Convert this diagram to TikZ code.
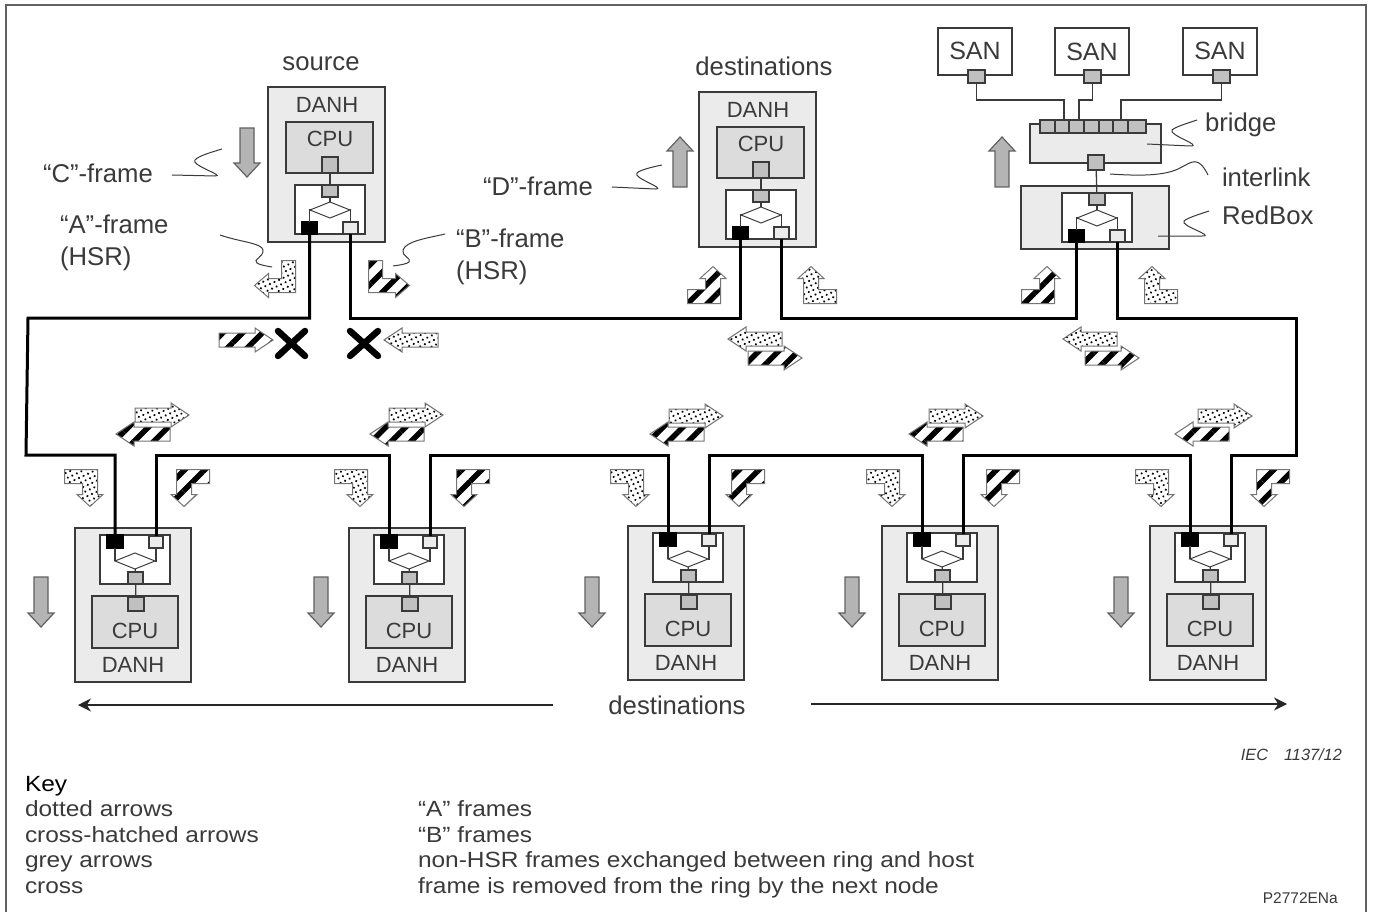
\documentclass[tikz,border=0pt]{standalone}
\usepackage{fontspec}
\setmainfont{Liberation Sans}
\newfontfamily\widefont[FakeStretch=1.112]{Liberation Sans}
\usetikzlibrary{shapes.geometric,patterns.meta,arrows.meta,calc}
\definecolor{ink}{HTML}{3A3A3A}
\definecolor{outerfill}{HTML}{EBEBEB}
\definecolor{cpufill}{HTML}{DCDCDC}
\definecolor{portfill}{HTML}{C0C0C0}
\definecolor{greyarrow}{HTML}{B4B4B4}
\tikzset{
  x=1pt,y=-1pt,
  rbox/.style={draw=ink,line width=1.3pt,rectangle,inner sep=0pt,outer sep=0pt},
  outerbox/.style={rbox,fill=outerfill},
  cpubox/.style={rbox,fill=cpufill},
  unitbox/.style={rbox,fill=white},
  port/.style={rbox,fill=portfill},
  blackport/.style={rbox,fill=black,draw=black},
  whiteport/.style={rbox,fill=outerfill},
  switch/.style={diamond,draw=ink,line width=1pt,fill=white,inner sep=0pt,outer sep=0pt,minimum width=40pt,minimum height=16pt,shape aspect=2.5},
  wire/.style={draw=ink,line width=1.3pt},
  ring/.style={draw=black,line width=3pt,line cap=butt,line join=miter},
  txt/.style={text=ink,inner sep=0pt,outer sep=0pt,font=\fontsize{25.7}{32}\selectfont},
  santxt/.style={text=ink,inner sep=0pt,outer sep=0pt,font=\fontsize{25}{32}\selectfont},
  boxtxt/.style={text=ink,inner sep=0pt,outer sep=0pt,font=\fontsize{22}{26}\selectfont},
  keytxt/.style={text=ink,inner sep=0pt,outer sep=0pt,anchor=base west,font=\widefont\fontsize{22}{26}\selectfont},
  hatchfill/.style={draw=ink!70,line width=1pt,preaction={fill=white},pattern={Lines[angle=45,distance=14pt,line width=5.5pt]},pattern color=black},
  dotfill/.style={draw=ink!70,line width=1pt,preaction={fill=white},pattern={Dots[radius=1.2pt,distance=5pt,angle=25]},pattern color=black},
  greyfill/.style={draw=ink!80,line width=1.2pt,fill=greyarrow},
  squiggle/.style={draw=ink,line width=1pt},
  crossmark/.style={draw=black,line width=6.5pt,line cap=round},
  long/.style={draw=black!85,line width=1.5pt,-{Stealth[length=13pt,width=13pt]}},
}
% box by corners
\newcommand{\bx}[7][]{\node[#2,#1,minimum width={(#6-#4)*1pt},minimum height={(#7-#5)*1pt}] (#3) at ({(#4+#6)/2},{(#5+#7)/2}) {};}
% ring section between two ports, through the level y
\newcommand{\ringlink}[3]{\draw[ring] (#1) -- (#1 |- 0,#3) -- (#2 |- 0,#3) -- (#2);}
% redundancy unit, ports at the bottom
\newcommand{\unittop}[1]{%
  \bx{unitbox}{#1box}{27}{98}{97}{147}
  \bx{port}{#1up}{54}{98}{70}{110}
  \node[switch] (#1sw) at (62,123) {};
  \bx{blackport}{#1b}{34}{135}{49}{147}
  \bx{whiteport}{#1w}{75}{135}{90}{147}
  \draw[wire] (#1up) -- (#1sw);
  \draw[wire] (#1sw.west) -| (#1b.north);
  \draw[wire] (#1sw.east) -| (#1w.north);
}
\newcommand{\danhtop}[3]{\begin{scope}[shift={(#2,#3)}]
  \bx{outerbox}{#1o}{0}{0}{117}{155}
  \node[boxtxt] (#1t) at (59,18) {DANH};
  \bx{cpubox}{#1c}{18}{35}{105}{86}
  \node[boxtxt] (#1ct) at (62,52) {CPU};
  \bx{port}{#1cp}{54}{70}{70}{86}
  \unittop{#1}
  \draw[wire] (#1up) -- (#1cp);
\end{scope}}
\newcommand{\danhbot}[3]{\begin{scope}[shift={(#2,#3)}]
  \bx{outerbox}{#1o}{0}{0}{116}{154}
  \bx{unitbox}{#1box}{25}{7}{95}{56}
  \bx{blackport}{#1b}{32}{7}{48}{20}
  \bx{whiteport}{#1w}{74}{8}{88}{20}
  \node[switch] (#1sw) at (60,33) {};
  \bx{port}{#1up}{53}{44}{68}{56}
  \bx{cpubox}{#1c}{17}{68}{103}{120}
  \bx{port}{#1cp}{53}{69}{69}{83}
  \node[boxtxt] (#1ct) at (60,103) {CPU};
  \node[boxtxt] (#1t) at (58,137) {DANH};
  \draw[wire] (#1up) -- (#1sw);
  \draw[wire] (#1sw.west) -| (#1b.south);
  \draw[wire] (#1sw.east) -| (#1w.south);
  \draw[wire] (#1up) -- (#1cp);
\end{scope}}
% straight pattern arrow: style, cx, cy, direction
\newcommand{\sarrow}[4]{\begin{scope}[shift={(#2,#3)},xscale=#4]
  \path[#1] (-27,-7) -- (9,-7) -- (9,-12) -- (27,0) -- (9,12) -- (9,7) -- (-27,7) -- cycle;
\end{scope}}
% L arrow with horizontal tip: style, cx, cy, xscale, yscale
\newcommand{\larrowh}[5]{\begin{scope}[shift={(#2,#3)},xscale=#4,yscale=#5]
  \path[#1] (20.5,-18.5) -- (6.5,-18.5) -- (6.5,-0.5) -- (-6.5,-0.5) -- (-6.5,-5.5) -- (-20.5,6.5) -- (-6.5,18.5) -- (-6.5,13.5) -- (20.5,13.5) -- cycle;
\end{scope}}
% L arrow with vertical tip
\newcommand{\larrowv}[5]{\begin{scope}[shift={(#2,#3)},xscale=#4,yscale=#5]
  \path[#1] (-20.5,18.5) -- (-20.5,4.5) -- (-2.5,4.5) -- (-2.5,-6.5) -- (-8,-6.5) -- (5,-18.5) -- (18,-6.5) -- (12.5,-6.5) -- (12.5,18.5) -- cycle;
\end{scope}}
\newcommand{\garrow}[3]{\path[greyfill] (#1-7,#2) -- (#1+7,#2) -- (#1+7,#3-14) -- (#1+13,#3-14) -- (#1,#3) -- (#1-13,#3-14) -- (#1-7,#3-14) -- cycle;}
\newcommand{\garrowup}[3]{\path[greyfill] (#1-7,#3) -- (#1+7,#3) -- (#1+7,#2+14) -- (#1+13,#2+14) -- (#1,#2) -- (#1-13,#2+14) -- (#1-7,#2+14) -- cycle;}
\begin{document}
\begin{tikzpicture}
\useasboundingbox (0,0) rectangle (1373,912);
\fill[white] (0,0) rectangle (1373,912);
% outer frame, open at the bottom
\draw[draw=ink!80,line width=2pt] (6,912) -- (6,5) -- (1366,5) -- (1366,912);

% DANH nodes
\danhtop{src}{268}{87}
\danhtop{dst}{699}{92}
\danhbot{na}{75}{528}
\danhbot{nb}{349}{528}
\danhbot{nc}{628}{526}
\danhbot{nd}{882}{526}
\danhbot{ne}{1150}{526}

% RedBox, bridge, SANs
\begin{scope}[shift={(1021,186)}]
  \bx{outerbox}{rbo}{0}{0}{148}{63}
\end{scope}
\begin{scope}[shift={(1035,95)}]
  \unittop{rb}
\end{scope}
\bx{outerbox}{brg}{1030}{124}{1161}{163}
\foreach \i/\a/\c in {1/1040/1055,2/1055/1069,3/1069/1084,4/1084/1099,5/1099/1113,6/1113/1128,7/1128/1146}{
  \bx{port}{brp\i}{\a}{120}{\c}{133}
}
\bx{port}{brdown}{1088}{155}{1104}{170}
\draw[wire] (brdown) -- (rbup);
\bx{unitbox}{sana}{938}{28}{1012}{75}
\bx{unitbox}{sanb}{1055}{28}{1129}{75}
\bx{unitbox}{sanc}{1183}{28}{1257}{75}
\node[santxt] (sanat) at (975,51) {SAN};
\node[santxt] (sanbt) at (1092,52) {SAN};
\node[santxt] (sanct) at (1220,51) {SAN};
\bx{port}{sanap}{968}{70}{985}{83}
\bx{port}{sanbp}{1084}{70}{1101}{83}
\bx{port}{sancp}{1213}{70}{1230}{83}
\draw[wire] (sanap.south) |- (1064,100) -- (1064,120);
\draw[wire] (sanbp.south) |- (1079,100) -- (1079,120);
\draw[wire] (sancp.south) |- (1121,100) -- (1121,120);

% ring
\draw[ring] (srcb.south) |- (28,318) -- (26,455) -| (nab.north);
\ringlink{naw.north}{nbb.north}{455}
\ringlink{nbw.north}{ncb.north}{455}
\ringlink{ncw.north}{ndb.north}{455}
\ringlink{ndw.north}{neb.north}{455}
\draw[ring] (new.north) |- (1296,455) -- (1296,318) -| (rbw.south);
\ringlink{rbb.south}{dstw.south}{318}
\ringlink{dstb.south}{srcw.south}{318}

% grey arrows
\garrow{247}{128}{177}
\garrowup{680}{137}{187}
\garrowup{1002}{137}{187}
\garrow{41}{577}{627}
\garrow{321}{577}{627}
\garrow{592}{577}{627}
\garrow{852}{577}{627}
\garrow{1121}{577}{627}

% L arrows
\larrowh{dotfill}{275}{279}{1}{1}
\larrowh{hatchfill}{389}{279}{-1}{1}
\larrowv{hatchfill}{708}{285}{1}{1}
\larrowv{dotfill}{816}{285}{-1}{1}
\larrowv{hatchfill}{1042}{285}{1}{1}
\larrowv{dotfill}{1157}{285}{-1}{1}
\foreach \a/\b in {85/189,355/469,631/744,887/999,1156/1269}{
  \larrowv{dotfill}{\a}{488}{1}{-1}
  \larrowv{hatchfill}{\b}{488}{-1}{-1}
}

% straight arrows
\sarrow{hatchfill}{246}{340}{1}
\sarrow{dotfill}{411}{340}{-1}
\sarrow{dotfill}{755}{339}{-1}
\sarrow{hatchfill}{775}{358}{1}
\sarrow{dotfill}{1090}{339}{-1}
\sarrow{hatchfill}{1112}{358}{1}
\foreach \a/\b/\c in {162/143/415,416/397/415,696/677/416,956/936/416,1225/1202/416}{
  \sarrow{dotfill}{\a}{\c}{1}
  \sarrow{hatchfill}{\b}{434}{-1}
}

% crosses
\draw[crossmark] (278,331) -- (305,356);
\draw[crossmark] (305,331) -- (278,356);
\draw[crossmark] (350,331) -- (378,356);
\draw[crossmark] (378,331) -- (350,356);

% labels
\node[txt] (lsrc) at (321,64) {source};
\node[txt] (ldst) at (764,66) {destinations};
\node[txt,anchor=west] (lc) at (43,173) {“C”-frame};
\node[txt,anchor=west,align=left] (la) at (60,243) {“A”-frame\\(HSR)};
\node[txt,anchor=west,align=left] (lb) at (456,257) {“B”-frame\\(HSR)};
\node[txt,anchor=west] (ld) at (483,186) {“D”-frame};
\node[txt,anchor=west] (lbr) at (1205,125) {bridge};
\node[txt,anchor=west] (lil) at (1222,177) {interlink};
\node[txt,anchor=west] (lrb) at (1222,215) {RedBox};
\node[txt] (ldb) at (677,705) {destinations};

% squiggles
\draw[squiggle] (172,175) -- (215,176) .. controls (226,176) and (190,165) .. (195,160) .. controls (198,156) and (212,152) .. (222,149);
\draw[squiggle] (220,235) .. controls (240,242) and (262,243) .. (263,250) .. controls (264,257) and (252,260) .. (257,263) .. controls (260,265) and (266,266) .. (272,267);
\draw[squiggle] (445,234) .. controls (428,238) and (406,241) .. (403,250) .. controls (401,256) and (412,258) .. (409,262) .. controls (407,264) and (400,265) .. (393,266);
\draw[squiggle] (612,187) -- (655,189) .. controls (668,189) and (632,178) .. (637,173) .. controls (640,170) and (652,167) .. (662,165);
\draw[squiggle] (1147,144) -- (1190,146) .. controls (1204,146) and (1168,135) .. (1172,130) .. controls (1175,127) and (1188,123) .. (1197,120);
\draw[squiggle] (1110,174) .. controls (1140,176) and (1165,176) .. (1180,168) .. controls (1192,162) and (1198,155) .. (1208,175);
\draw[squiggle] (1158,236) -- (1202,236) .. controls (1216,236) and (1180,226) .. (1184,221) .. controls (1187,218) and (1200,214) .. (1209,211);

% span arrows
\coordinate (spanl) at (553,705);
\coordinate (spanr) at (811,704);
\coordinate (spanle) at (78,705);
\coordinate (spanre) at (1287,704);
\draw[long] (spanl) -- (spanle);
\draw[long] (spanr) -- (spanre);

% key
\node[keytxt,text=black] (k0) at (25,791) {Key};
\node[keytxt] (k1) at (25,816) {dotted arrows};
\node[keytxt] (k2) at (25,842) {cross-hatched arrows};
\node[keytxt] (k3) at (25,867) {grey arrows};
\node[keytxt] (k4) at (25,893) {cross};
\node[keytxt] (v1) at (418,816) {“A” frames};
\node[keytxt] (v2) at (418,842) {“B” frames};
\node[keytxt] (v3) at (418,867) {non-HSR frames exchanged between ring and host};
\node[keytxt] (v4) at (418,893) {frame is removed from the ring by the next node};
\node[text=ink,inner sep=0pt,anchor=base east,font=\itshape\fontsize{16.3}{18}\selectfont] (iec) at (1342,760) {IEC\hspace{16pt}1137/12};
\node[text=ink,inner sep=0pt,anchor=base east,font=\fontsize{15.5}{18}\selectfont] (ref) at (1338,903) {P2772ENa};
\end{tikzpicture}
\end{document}
